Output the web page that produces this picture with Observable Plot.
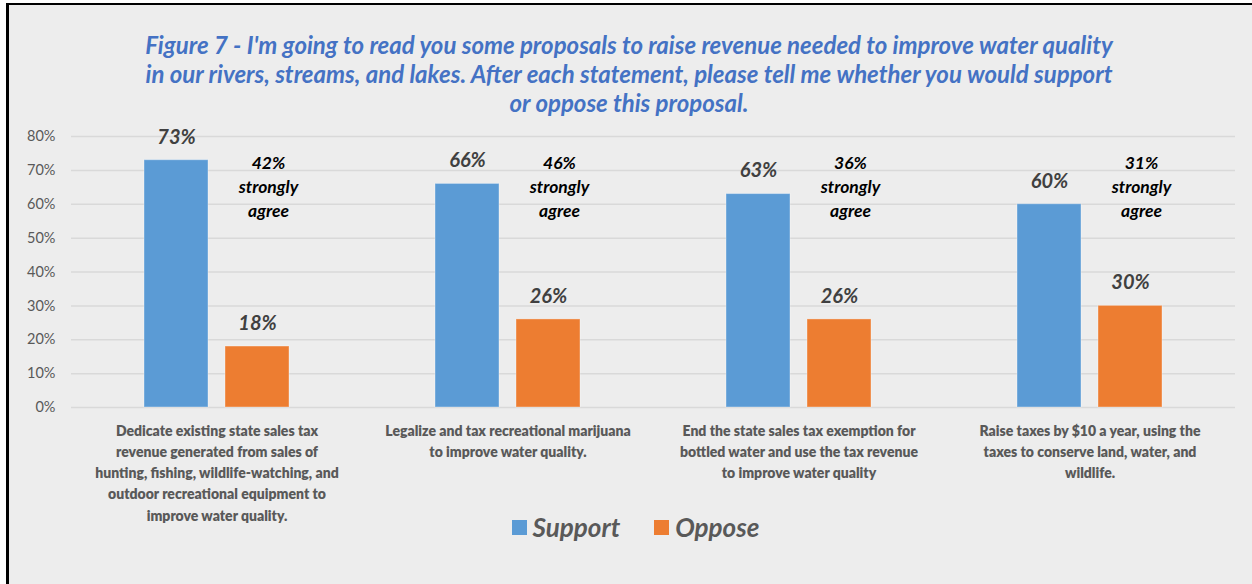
<!DOCTYPE html>
<html><head><meta charset="utf-8">
<script src="https://cdn.jsdelivr.net/npm/d3@7"></script>
<script src="https://cdn.jsdelivr.net/npm/@observablehq/plot@0.6"></script>
<style>
html,body{margin:0;padding:0;background:#fff;}
body{width:1252px;height:584px;overflow:hidden;position:relative;font-family:Lato,"Open Sans",sans-serif;}
#frame{position:absolute;left:6px;top:3px;right:0;bottom:0;background:#EDEDED;border-top:2px solid #000;border-left:3px solid #000;z-index:0;}
#chart{position:relative;z-index:1;}
#title{padding-top:30px;padding-left:6px;height:87px;text-align:center;color:#4472C4;font-weight:700;font-style:italic;font-size:24px;line-height:29px;white-space:nowrap;}
#legend{height:30px;display:flex;justify-content:center;align-items:center;padding-left:19px;font-size:26px;font-weight:700;font-style:italic;color:#595959;}
.sw{width:15px;height:15px;display:inline-block;margin-right:6px;}
.item{display:flex;align-items:center;margin:0 17px;}
svg{display:block;overflow:visible;}
</style></head>
<body>
<div id="frame"></div>
<div id="chart">
<div id="title">Figure 7 - I'm going to read you some proposals to raise revenue needed to improve water quality<br>in our rivers, streams, and lakes. After each statement, please tell me whether you would support<br>or oppose this proposal.</div>
<div id="plot"></div>
<div id="legend"></div>
</div>
<script>
const categories = [
  "Dedicate existing state sales tax\nrevenue generated from sales of\nhunting, fishing, wildlife-watching, and\noutdoor recreational equipment to\nimprove water quality.",
  "Legalize and tax recreational marijuana\nto improve water quality.",
  "End the state sales tax exemption for\nbottled water and use the tax revenue\nto improve water quality",
  "Raise taxes by $10 a year, using the\ntaxes to conserve land, water, and\nwildlife."
];
const series = ["Support", "Oppose"];
const support = [73, 66, 63, 60];
const oppose = [18, 26, 26, 30];
const stronglyAgree = [42, 46, 36, 31];
const yTicks = [0, 10, 20, 30, 40, 50, 60, 70, 80];
const colors = ["#5B9BD5", "#ED7D31"];

const rows = [];
categories.forEach((c, i) => {
  rows.push({category: c, series: "Support", value: support[i]});
  rows.push({category: c, series: "Oppose", value: oppose[i]});
});
const notes = categories.map((c, i) => ({category: c, series: "Oppose", text: stronglyAgree[i] + "%\nstrongly\nagree"}));

const chart = Plot.plot({
  width: 1252,
  height: 395,
  marginTop: 19,
  marginBottom: 105,
  marginLeft: 71,
  marginRight: 17,
  style: {background: "transparent", fontFamily: "Lato, 'Open Sans', sans-serif", overflow: "visible"},
  fx: {domain: categories, padding: 0, label: null, axis: null},
  x: {domain: series, paddingInner: 0.207, paddingOuter: 0.878, axis: null},
  y: {domain: [0, 80], label: null},
  color: {domain: series, range: colors},
  marks: [
    Plot.gridY(yTicks, {stroke: "#D9D9D9", strokeOpacity: 1, strokeWidth: 1.5}),
    Plot.axisY(yTicks, {tickFormat: d => d + "%", tickSize: 0, tickPadding: 16, fontSize: 14.5, fill: "#595959", label: null}),
    Plot.text(categories, {fx: d => d, text: d => d, frameAnchor: "bottom", lineAnchor: "top", dy: 13, fontSize: 14, fontWeight: 800, fill: "#595959", lineHeight: 1.52}),
    Plot.barY(rows, {fx: "category", x: "series", y: "value", fill: "series", stroke: "#ffffff", strokeOpacity: 0.35, strokeWidth: 1}),
    Plot.text(rows, {fx: "category", x: "series", y: "value", text: d => d.value + "%", dy: -23, fontSize: 20, fontWeight: 700, fontStyle: "italic", fill: "#404040"}),
    Plot.text(notes, {fx: "category", x: "series", frameAnchor: "top", text: "text", lineAnchor: "top", dy: 15.5, dx: 11, lineHeight: 1.37, fontSize: 17.5, fontWeight: 700, fontStyle: "italic", fill: "#000000"})
  ]
});
document.getElementById("plot").appendChild(chart);

const legend = document.getElementById("legend");
series.forEach((s, i) => {
  const item = document.createElement("span");
  item.className = "item";
  item.innerHTML = `<span class="sw" style="background:${colors[i]}"></span>${s}`;
  legend.appendChild(item);
});
</script>
</body></html>
